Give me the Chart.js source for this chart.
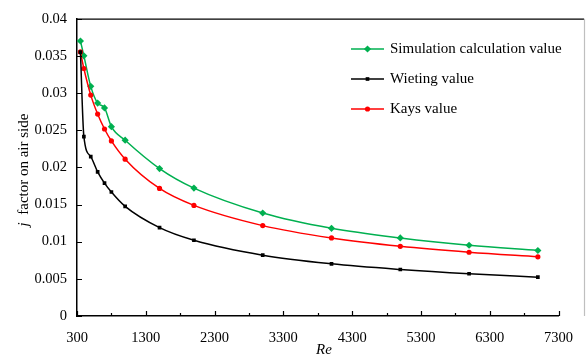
<!DOCTYPE html>
<html>
<head>
<meta charset="utf-8">
<script src="https://cdn.jsdelivr.net/npm/chart.js@4.4.1/dist/chart.umd.min.js"></script>
<style>
  html, body { margin: 0; padding: 0; background: #fff; }
  #wrap { width: 586px; height: 356px; }
</style>
</head>
<body>
<div id="wrap"><canvas id="chart" width="586" height="356"></canvas></div>
<script>
const reValues = [350, 400, 500, 600, 700, 800, 1000, 1500, 2000, 3000, 4000, 5000, 6000, 7000];
const simulationValues = [0.0370, 0.0350, 0.0309, 0.02865, 0.0280, 0.02547, 0.02365, 0.01984, 0.01721, 0.01386, 0.0118, 0.0105, 0.00952, 0.00881];
const wietingValues = [0.0355, 0.02413, 0.02145, 0.0194, 0.01788, 0.01668, 0.01475, 0.01189, 0.01019, 0.00818, 0.00702, 0.00626, 0.00568, 0.00523];
const kaysValues = [0.03553, 0.0333, 0.02972, 0.02717, 0.02516, 0.02355, 0.0211, 0.01716, 0.01488, 0.01216, 0.0105, 0.00938, 0.00858, 0.00796];
const seriesNames = ["Simulation calculation value", "Wieting value", "Kays value"];
const xTicks = [300, 1300, 2300, 3300, 4300, 5300, 6300, 7300];
const xMinorTicks = [800, 1800, 2800, 3800, 4800, 5800, 6800];
const yTicks = [0, 0.005, 0.01, 0.015, 0.02, 0.025, 0.03, 0.035, 0.04];

const serif = "'Liberation Serif', 'Times New Roman', serif";
const toPoints = (vals) => reValues.map((r, i) => ({ x: r, y: vals[i] }));

const makeSet = (label, vals, color, style, radius) => ({
  label,
  data: toPoints(vals),
  borderColor: color,
  backgroundColor: color,
  borderWidth: 1.5,
  pointStyle: style,
  pointRadius: radius,
  pointBorderWidth: 0,
  showLine: true,
  cubicInterpolationMode: "monotone",
});

const datasets = [
  makeSet(seriesNames[1], wietingValues, "#000000", "rect", 2.6),
  makeSet(seriesNames[2], kaysValues, "#ff0000", "circle", 2.6),
  makeSet(seriesNames[0], simulationValues, "#00b050", "rectRot", 3.6),
];

// ticks, frame, titles and legend drawn on top
const decor = {
  id: "decor",
  afterDraw(chart) {
    const { ctx, chartArea: a, scales: { x, y } } = chart;
    ctx.save();
    ctx.strokeStyle = "#000";
    ctx.lineWidth = 1.2;
    ctx.beginPath();
    xTicks.forEach((v) => {
      const px = Math.round(x.getPixelForValue(v)) + 0.5;
      ctx.moveTo(px, a.bottom); ctx.lineTo(px, a.bottom - 5);
    });
    xMinorTicks.forEach((v) => {
      const px = Math.round(x.getPixelForValue(v)) + 0.5;
      ctx.moveTo(px, a.bottom); ctx.lineTo(px, a.bottom - 3);
    });
    yTicks.forEach((v) => {
      const py = Math.round(y.getPixelForValue(v)) + 0.5;
      ctx.moveTo(a.left, py); ctx.lineTo(a.left + 5, py);
    });
    ctx.stroke();

    // frame: black top, grey right
    ctx.lineWidth = 1.2;
    ctx.beginPath();
    ctx.moveTo(a.left, a.top + 0.5); ctx.lineTo(584, a.top + 0.5);
    ctx.stroke();
    ctx.strokeStyle = "#bfbfbf";
    ctx.beginPath();
    ctx.moveTo(584.5, a.top); ctx.lineTo(584.5, a.bottom);
    ctx.stroke();

    // axis titles
    ctx.fillStyle = "#000";
    ctx.textBaseline = "middle";
    ctx.font = "italic 15px " + serif;
    ctx.textAlign = "center";
    ctx.fillText("Re", 324, 350);

    ctx.save();
    ctx.translate(24, 170);
    ctx.rotate(-Math.PI / 2);
    ctx.textAlign = "left";
    const rest = "  factor on air side";
    ctx.font = "italic 15px " + serif;
    const wj = ctx.measureText("j").width;
    ctx.font = "15px " + serif;
    const wr = ctx.measureText(rest).width;
    const sx = -(wj + wr) / 2;
    ctx.font = "italic 15px " + serif;
    ctx.fillText("j", sx, 0);
    ctx.font = "15px " + serif;
    ctx.fillText(rest, sx + wj, 0);
    ctx.restore();

    // legend
    const rows = [
      { name: seriesNames[0], color: "#00b050", style: "rectRot", r: 3.6 },
      { name: seriesNames[1], color: "#000000", style: "rect", r: 2.6 },
      { name: seriesNames[2], color: "#ff0000", style: "circle", r: 2.6 },
    ];
    ctx.font = "15px " + serif;
    ctx.textAlign = "left";
    rows.forEach((row, i) => {
      const ly = 49 + i * 30;
      ctx.strokeStyle = row.color;
      ctx.lineWidth = 1.5;
      ctx.beginPath();
      ctx.moveTo(351, ly); ctx.lineTo(384, ly);
      ctx.stroke();
      ctx.fillStyle = row.color;
      Chart.helpers.drawPoint(ctx, { pointStyle: row.style, radius: row.r, borderWidth: 0 }, 367.5, ly);
      ctx.fillStyle = "#000";
      ctx.fillText(row.name, 390, ly);
    });
    ctx.restore();
  },
};

new Chart(document.getElementById("chart"), {
  type: "scatter",
  data: { datasets },
  plugins: [decor],
  options: {
    responsive: false,
    animation: false,
    layout: { padding: { top: 18, right: 14, left: 0, bottom: 0 } },
    plugins: { legend: { display: false }, tooltip: { enabled: false } },
    scales: {
      x: {
        type: "linear",
        min: 300,
        max: 7300,
        afterBuildTicks: (s) => { s.ticks = xTicks.map((v) => ({ value: v })); },
        afterFit: (s) => { s.height = 40; },
        grid: { display: false, drawTicks: false },
        border: { display: true, color: "#000", width: 1.5 },
        ticks: {
          color: "#000",
          padding: 13,
          maxRotation: 0,
          font: { family: serif, size: 14.5 },
          callback: (v) => String(v),
        },
      },
      y: {
        type: "linear",
        min: 0,
        max: 0.04,
        afterBuildTicks: (s) => { s.ticks = yTicks.map((v) => ({ value: v })); },
        afterFit: (s) => { s.width = 77; },
        grid: { display: false, drawTicks: false },
        border: { display: true, color: "#000", width: 1.5 },
        ticks: {
          color: "#000",
          padding: 10,
          font: { family: serif, size: 14.5 },
          callback: (v) => String(Math.round(v * 1000) / 1000),
        },
      },
    },
  },
});
</script>
</body>
</html>
